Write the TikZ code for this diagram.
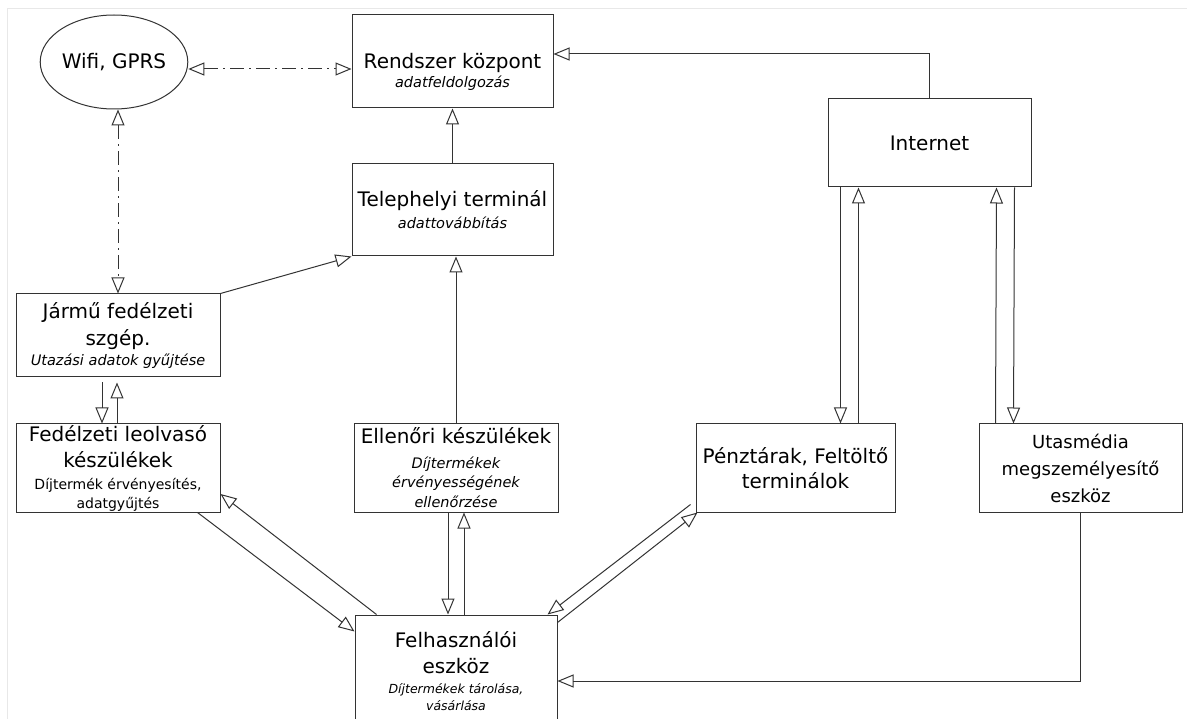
\documentclass[tikz,border=0pt]{standalone}
\usepackage{fontspec}
\setmainfont{DejaVu Sans}
\usetikzlibrary{arrows.meta,shapes.geometric}
\newcommand\mainf{\fontsize{20}{26}\selectfont}
\newcommand\subit{\fontsize{14.5}{20}\selectfont\itshape}
\newcommand\subup{\fontsize{14}{19}\selectfont}
\newcommand\felhit{\fontsize{12.5}{17}\selectfont\itshape}
\newcommand\utasf{\fontsize{18}{27}\selectfont}
\begin{document}
\begin{tikzpicture}[x=1pt,y=-1pt,line width=1pt,
  >={Triangle[open,length=16pt,width=13pt]},
  box/.style={draw=black!80, rectangle, inner sep=0pt, align=center, font=\mainf},
  txt/.style={inner sep=0pt, align=center, font=\mainf},
  conn/.style={draw=black!80, ->},
  biconn/.style={draw=black!80, <->, dash pattern=on 14pt off 5pt on 2pt off 5pt},
  frame/.style={draw=black!9, line width=1pt}
]
\useasboundingbox (0,0) rectangle (1187,719);
\clip (0,0) rectangle (1187,719);
\fill[white] (0,0) rectangle (1187,719);
\coordinate (fr-corner) at (7,9);
\coordinate (fr-right) at (1187,9);
\coordinate (fr-bottom) at (7,719);
\draw[frame] (fr-right) -- (fr-corner) -- (fr-bottom);

% nodes
\node[ellipse, draw=black!80, inner sep=0pt, minimum width=138pt, minimum height=94pt, font=\mainf] (wifi) at (114,62) {Wifi, GPRS};
\node[box, minimum width=201pt, minimum height=93pt] (rendszer) at (452.5,61.5) {};
\node[txt] (rendszer-txt) at (452.5,72) {Rendszer központ\\[-7pt]\subit adatfeldolgozás};
\node[box, minimum width=203pt, minimum height=88pt] (internet) at (929.5,143) {Internet};
\node[box, minimum width=201pt, minimum height=92pt] (teleph) at (452.5,210) {Telephelyi terminál\\[-4pt]\subit adattovábbítás};
\node[box, minimum width=204pt, minimum height=83pt] (jarmu) at (118,335.5) {Jármű fedélzeti\\[1pt]szgép.\\[-6pt]\subit Utazási adatok gyűjtése};
\node[box, minimum width=204pt, minimum height=88pt] (fed) at (118,468) {Fedélzeti leolvasó\\készülékek\\[-4pt]\subup Díjtermék érvényesítés,\\[-7pt]\subup adatgyűjtés};
\node[box, minimum width=204pt, minimum height=88pt] (ellenori) at (456,468) {Ellenőri készülékek\\[-1pt]\subit Díjtermékek\\[-7pt]\subit érvényességének\\[-6pt]\subit ellenőrzése};
\node[box, minimum width=199pt, minimum height=88pt] (penz) at (795.5,468) {Pénztárak, Feltöltő\\[-1pt]terminálok};
\node[box, minimum width=203pt, minimum height=88pt, font=\utasf] (utas) at (1080.5,468) {Utasmédia\\megszemélyesítő\\eszköz};
\node[box, minimum width=202pt, minimum height=112pt] (felh) at (456,671) {Felhasználói\\eszköz\\[-6.5pt]\felhit Díjtermékek tárolása,\\[-9pt]\felhit vásárlása};

% connectors
\draw[biconn] ([yshift=-7pt]wifi.east) -- ([yshift=-7.5pt]rendszer.west);
\draw[biconn] (jarmu.north |- wifi.south) -- (jarmu.north);
\draw[conn] (internet.north) |- ([yshift=7.5pt]rendszer.east);
\draw[conn] (teleph.north) -- (rendszer.south);
\draw[conn] (ellenori.north) -- (ellenori.north |- teleph.south);
\draw[conn] (jarmu.north east) -- (teleph.south west);
\draw[conn, shorten <=5pt] ([xshift=-16pt]jarmu.south) -- ([xshift=-16pt]fed.north);
\draw[conn, shorten >=5pt] ([xshift=-1pt]fed.north) -- ([xshift=-1pt]jarmu.south);
\draw[conn] ([xshift=-23pt]fed.south east) -- ([yshift=-17pt]felh.north west);
\draw[conn] ([xshift=22pt]felh.north west) -- ([yshift=-26pt]fed.east);
\draw[conn] ([xshift=-8pt]ellenori.south) -- ([xshift=-8pt]felh.north);
\draw[conn] ([xshift=8pt]felh.north) -- ([xshift=8pt]ellenori.south);
\draw[conn] ([xshift=-5pt,yshift=8pt]penz.south west) -- ([xshift=-10pt]felh.north east);
\draw[conn] ([yshift=-8pt]felh.north east) -- ([xshift=2pt]penz.south west);
\draw[conn] ([xshift=13pt]internet.south west) -- ([xshift=145pt]penz.north west);
\draw[conn] ([xshift=163pt]penz.north west) -- ([xshift=31pt]internet.south west);
\draw[conn] ([xshift=17pt]utas.north west) -- ([xshift=-35pt]internet.south east);
\draw[conn] ([xshift=-17pt]internet.south east) -- ([xshift=35pt]utas.north west);
\draw[conn] (utas.south) |- ([yshift=-10pt]felh.east);
\end{tikzpicture}
\end{document}
